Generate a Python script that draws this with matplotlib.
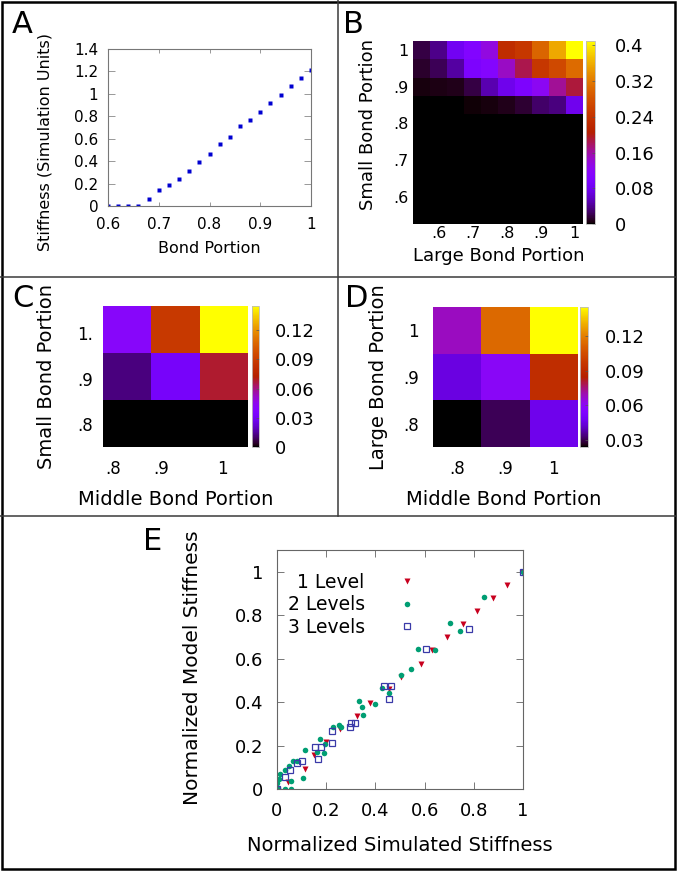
import numpy as np
import matplotlib
matplotlib.use("Agg")

import matplotlib.pyplot as plt
from matplotlib.colors import ListedColormap
from matplotlib.lines import Line2D
from matplotlib.patches import Rectangle

# ---- panel A: stiffness vs bond portion
a_bond = [0.60, 0.62, 0.64, 0.66, 0.68, 0.70, 0.72, 0.74, 0.76, 0.78, 0.80,
          0.82, 0.84, 0.86, 0.88, 0.90, 0.92, 0.94, 0.96, 0.98, 1.00]
a_stiff = [0.0, 0.0, 0.0, 0.003, 0.06, 0.14, 0.185, 0.245, 0.313, 0.394, 0.463,
           0.552, 0.618, 0.713, 0.767, 0.842, 0.916, 0.994, 1.07, 1.137, 1.212]

# ---- panel B: small bond (rows, top to bottom) x large bond (columns)
b_large = [0.55, 0.60, 0.65, 0.70, 0.75, 0.80, 0.85, 0.90, 0.95, 1.00]
b_small = [1.00, 0.95, 0.90, 0.85, 0.80, 0.75, 0.70, 0.65, 0.60, 0.55]
b_row_100 = [0.018, 0.037, 0.082, 0.107, 0.135, 0.230, 0.246, 0.300, 0.357, 0.410]
b_row_095 = [0.012, 0.023, 0.045, 0.098, 0.110, 0.148, 0.185, 0.246, 0.270, 0.307]
b_row_090 = [0.004, 0.005, 0.008, 0.018, 0.050, 0.078, 0.098, 0.123, 0.164, 0.190]
b_row_085 = [0.0, 0.0, 0.001, 0.003, 0.004, 0.008, 0.014, 0.028, 0.034, 0.080]
b_row_zero = [0.0] * 10
b_ticks = [0.6, 0.7, 0.8, 0.9, 1.0]
b_ticklabels = [".6", ".7", ".8", ".9", "1"]
b_cbar_ticks = [0, 0.08, 0.16, 0.24, 0.32, 0.4]

# ---- panel C: small bond x middle bond
c_middle = [0.8, 0.9, 1.0]
c_small = [1.0, 0.9, 0.8]
c_row_10 = [0.041, 0.088, 0.145]
c_row_09 = [0.012, 0.032, 0.068]
c_row_08 = [0.0, 0.0, 0.0]
c_xtick_pos = [0.771, 0.871, 0.998]
c_xticklabels = [".8", ".9", "1"]
c_ytick_pos = [0.993, 0.895, 0.798]
c_yticklabels = ["1.", ".9", ".8"]
c_cbar_ticks = [0, 0.03, 0.06, 0.09, 0.12]

# ---- panel D: large bond x middle bond
d_middle = [0.8, 0.9, 1.0]
d_large = [1.0, 0.9, 0.8]
d_row_10 = [0.068, 0.114, 0.145]
d_row_09 = [0.045, 0.059, 0.092]
d_row_08 = [0.024, 0.031, 0.047]
d_ticklabels = [".8", ".9", "1"]
d_yticklabels = ["1", ".9", ".8"]
d_cbar_ticks = [0.03, 0.06, 0.09, 0.12]

# ---- panel E: model vs simulated stiffness
e1_x = [0.0, 0.046, 0.114, 0.151, 0.200, 0.258, 0.324, 0.377, 0.454, 0.505,
        0.584, 0.629, 0.690, 0.755, 0.815, 0.879, 0.933, 1.0]
e1_y = [0.0, 0.031, 0.094, 0.155, 0.216, 0.274, 0.335, 0.396, 0.458, 0.517,
        0.577, 0.639, 0.699, 0.760, 0.821, 0.881, 0.941, 1.0]
e2_x = [0.0, 0.005, 0.001, 0.008, 0.011, 0.032, 0.057, 0.058, 0.032, 0.049,
        0.065, 0.082, 0.105, 0.114, 0.164, 0.173, 0.193, 0.197, 0.227, 0.251,
        0.261, 0.332, 0.346, 0.349, 0.400, 0.427, 0.454, 0.504, 0.543, 0.574,
        0.642, 0.704, 0.745, 0.843, 1.0]
e2_y = [0.0, 0.006, 0.026, 0.044, 0.067, 0.0, 0.0, 0.035, 0.087, 0.105,
        0.128, 0.130, 0.050, 0.180, 0.168, 0.232, 0.167, 0.206, 0.286, 0.294,
        0.286, 0.405, 0.378, 0.339, 0.393, 0.466, 0.443, 0.526, 0.552, 0.644,
        0.638, 0.763, 0.725, 0.882, 1.0]
e3_x = [0.0, 0.031, 0.054, 0.082, 0.103, 0.154, 0.177, 0.166, 0.222, 0.222,
        0.296, 0.300, 0.319, 0.434, 0.462, 0.454, 0.607, 0.780, 1.0]
e3_y = [0.0, 0.057, 0.087, 0.118, 0.127, 0.194, 0.194, 0.138, 0.213, 0.268,
        0.286, 0.306, 0.306, 0.472, 0.472, 0.413, 0.644, 0.737, 1.0]
e_ticks = [0, 0.2, 0.4, 0.6, 0.8, 1.0]
e_ticklabels = ["0", "0.2", "0.4", "0.6", "0.8", "1"]

W, H = 677, 872
fig = plt.figure(figsize=(W / 100, H / 100), dpi=100)

# gnuplot default pm3d palette (rgbformulae 7,5,15)
t = np.linspace(0, 1, 256)
pm3d = ListedColormap(np.column_stack([np.sqrt(t), t ** 3,
                                       np.clip(np.sin(2 * np.pi * t), 0, 1)]))


def box(l, top, r, b):
    return [l / W, 1 - b / H, (r - l) / W, (b - top) / H]


def ftext(x, y, s, **kw):
    fig.text(x / W, 1 - y / H, s, **kw)


def heat_axes(ax):
    for sp in ax.spines.values():
        sp.set_visible(False)
    ax.tick_params(length=0)


def cbar(mesh, rect, ticks, fmt, size, pad):
    cax = fig.add_axes(box(*rect))
    cb = fig.colorbar(mesh, cax=cax, ticks=ticks)
    cb.ax.set_yticklabels([fmt(v) for v in ticks])
    cb.outline.set_edgecolor("#bbbbbb")
    cb.outline.set_linewidth(0.6)
    cb.ax.tick_params(direction="in", length=2.5, width=0.5, color="#555555",
                      labelsize=size, pad=pad)
    return cb


def cb_fmt(v):
    return "0" if v == 0 else ("%g" % v)


# ---------------- A
axA = fig.add_axes(box(108, 49, 311, 206))
axA.plot(a_bond, a_stiff, "s", color="#0000d0", ms=2.4, mec="none")
axA.set_xlim(0.6, 1.0)
axA.set_ylim(0, 1.4)
axA.set_xticks([0.6, 0.7, 0.8, 0.9, 1.0])
axA.set_xticklabels(["0.6", "0.7", "0.8", "0.9", "1"])
axA.set_yticks([0, 0.2, 0.4, 0.6, 0.8, 1.0, 1.2, 1.4])
axA.set_yticklabels(["0", "0.2", "0.4", "0.6", "0.8", "1", "1.2", "1.4"])
axA.tick_params(direction="in", top=True, right=True, width=0.6,
                color="#888888", labelsize=11)
axA.tick_params(axis="x", length=3, pad=8)
axA.tick_params(axis="y", length=5, pad=7)
for sp in axA.spines.values():
    sp.set_color("#777777")
    sp.set_linewidth(0.8)
ftext(45, 142, "Stiffness (Simulation Units)", rotation=90, ha="center",
      va="center", fontsize=11.5)
ftext(209, 248, "Bond Portion", ha="center", va="center", fontsize=11.5)

# ---------------- B
b_grid = [b_row_100, b_row_095, b_row_090, b_row_085] + [b_row_zero] * 6
axB = fig.add_axes(box(413, 41, 583, 224))
mB = axB.pcolormesh(b_large, b_small, b_grid, shading="nearest", cmap=pm3d,
                    vmin=0, vmax=0.41)
axB.set_xlim(0.525, 1.025)
axB.set_ylim(0.525, 1.025)
axB.set_xticks(b_ticks)
axB.set_xticklabels(b_ticklabels)
axB.set_yticks(b_ticks)
axB.set_yticklabels(b_ticklabels)
heat_axes(axB)
axB.tick_params(labelsize=11.5)
axB.tick_params(axis="x", pad=1.5)
axB.tick_params(axis="y", pad=3.5)
cbar(mB, (586, 41, 595, 224), b_cbar_ticks, cb_fmt, 13, 14)
ftext(368, 125, "Small Bond Portion", rotation=90, ha="center", va="center",
      fontsize=13)
ftext(499, 256, "Large Bond Portion", ha="center", va="center", fontsize=13)

# ---------------- C
axC = fig.add_axes(box(103, 306, 248, 447))
mC = axC.pcolormesh(c_middle, c_small, [c_row_10, c_row_09, c_row_08],
                    shading="nearest", cmap=pm3d, vmin=0, vmax=0.145)
axC.set_xlim(0.75, 1.05)
axC.set_ylim(0.75, 1.05)
axC.set_xticks(c_xtick_pos)
axC.set_xticklabels(c_xticklabels)
axC.set_yticks(c_ytick_pos)
axC.set_yticklabels(c_yticklabels)
heat_axes(axC)
axC.tick_params(labelsize=12)
axC.tick_params(axis="x", pad=9)
axC.tick_params(axis="y", pad=7)
cbar(mC, (252, 306, 259, 447), c_cbar_ticks, cb_fmt, 13, 11.5)
ftext(47, 376, "Small Bond Portion", rotation=90, ha="center", va="center",
      fontsize=14)
ftext(176, 499, "Middle Bond Portion", ha="center", va="center", fontsize=14)

# ---------------- D
axD = fig.add_axes(box(433, 307, 578, 447))
mD = axD.pcolormesh(d_middle, d_large, [d_row_10, d_row_09, d_row_08],
                    shading="nearest", cmap=pm3d, vmin=0.024, vmax=0.145)
axD.set_xlim(0.75, 1.05)
axD.set_ylim(0.75, 1.05)
axD.set_xticks(d_middle)
axD.set_xticklabels(d_ticklabels)
axD.set_yticks(d_large)
axD.set_yticklabels(d_yticklabels)
heat_axes(axD)
axD.tick_params(labelsize=12)
axD.tick_params(axis="x", pad=9)
axD.tick_params(axis="y", pad=10)
cbar(mD, (580, 307, 588, 447), d_cbar_ticks, cb_fmt, 13, 12)
ftext(379, 377, "Large Bond Portion", rotation=90, ha="center", va="center",
      fontsize=14)
ftext(504, 499, "Middle Bond Portion", ha="center", va="center", fontsize=14)

# ---------------- E
axE = fig.add_axes(box(277, 550, 523, 789))
axE.plot(e1_x, e1_y, "v", color="#c8001e", ms=4, mec="none", label="1 Level")
axE.plot(e2_x, e2_y, "o", color="#009e73", ms=4, mec="none", label="2 Levels")
axE.plot(e3_x, e3_y, "s", mfc="none", mec="#3a3aa8", ms=4, mew=0.9,
         label="3 Levels")
axE.set_xlim(0, 1.0)
axE.set_ylim(0, 1.1)
axE.set_xticks(e_ticks)
axE.set_xticklabels(e_ticklabels)
axE.set_yticks(e_ticks)
axE.set_yticklabels(e_ticklabels)
axE.tick_params(direction="in", top=True, right=True, length=5, width=0.7,
                color="#777777", labelsize=13)
axE.tick_params(axis="x", pad=9)
axE.tick_params(axis="y", pad=10)
for sp in axE.spines.values():
    sp.set_color("#666666")
    sp.set_linewidth(0.8)
axE.legend(loc="upper right", bbox_to_anchor=(434 / W, 1 - 573 / H),
           bbox_transform=fig.transFigure, frameon=False, markerfirst=False,
           fontsize=13.5, handlelength=2.9, handletextpad=0.8,
           labelspacing=0.18, borderpad=0, borderaxespad=0)
ftext(193, 668, "Normalized Model Stiffness", rotation=90, ha="center",
      va="center", fontsize=14.5)
ftext(400, 845, "Normalized Simulated Stiffness", ha="center", va="center",
      fontsize=14)

# ---------------- panel letters
for x, y, s in [(12, 33, "A"), (343, 33, "B"), (12, 307, "C"), (345, 307, "D"),
                (143, 550, "E")]:
    ftext(x, y, s, fontsize=22, ha="left", va="baseline")

# ---------------- frame and dividers
for (x0, y0, x1, y1) in [(0, 277, W, 277), (0, 516, W, 516),
                         (338, 0, 338, 516)]:
    fig.add_artist(Line2D([x0 / W, x1 / W], [1 - y0 / H, 1 - y1 / H],
                          transform=fig.transFigure, color="#3a3a3a", lw=1.1))
fig.add_artist(Rectangle((1.8 / W, 1 - 868.5 / H), (674.5 - 1.8) / W,
                         (868.5 - 1.8) / H, transform=fig.transFigure,
                         fill=False, ec="black", lw=1.8))

fig.savefig("out.png", dpi=100)
